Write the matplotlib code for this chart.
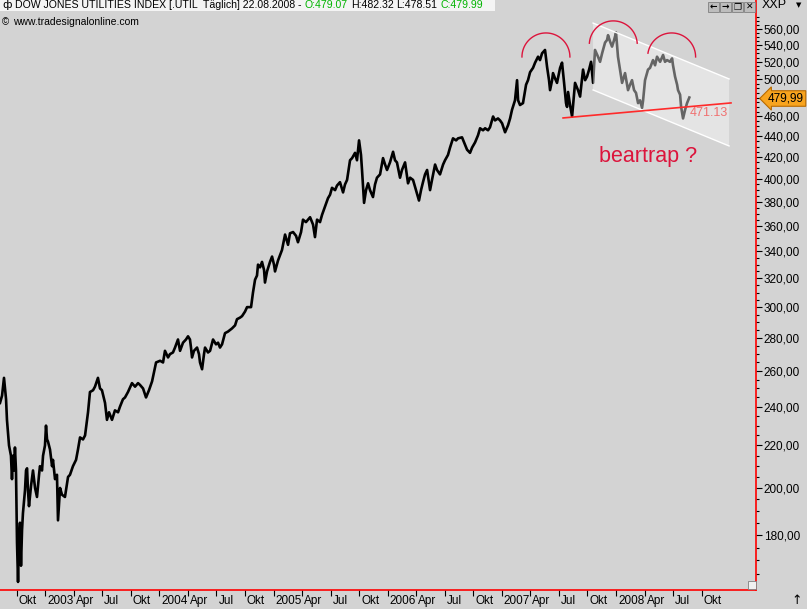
import numpy as np
import matplotlib.pyplot as plt
from matplotlib.patches import Rectangle
from matplotlib.ticker import FixedLocator, FuncFormatter, NullFormatter
from matplotlib.transforms import ScaledTranslation

# daily closes (decimal year, index value)
years = [
    2002.604, 2002.622, 2002.639, 2002.657, 2002.665, 2002.683, 2002.700, 2002.709, 2002.718, 2002.727,
    2002.735, 2002.744, 2002.753, 2002.762, 2002.770, 2002.779, 2002.788, 2002.797, 2002.805, 2002.823,
    2002.832, 2002.841, 2002.849, 2002.858, 2002.876, 2002.893, 2002.911, 2002.928, 2002.946, 2002.954,
    2002.972, 2002.981, 2002.998, 2003.007, 2003.016, 2003.024, 2003.042, 2003.060, 2003.068, 2003.086,
    2003.103, 2003.112, 2003.130, 2003.147, 2003.173, 2003.200, 2003.217, 2003.243, 2003.270, 2003.287,
    2003.305, 2003.331, 2003.349, 2003.375, 2003.392, 2003.419, 2003.436, 2003.462, 2003.480, 2003.497,
    2003.524, 2003.541, 2003.559, 2003.585, 2003.611, 2003.638, 2003.655, 2003.681, 2003.699, 2003.725,
    2003.760, 2003.787, 2003.813, 2003.830, 2003.857, 2003.883, 2003.909, 2003.936, 2003.971, 2004.006,
    2004.032, 2004.049, 2004.076, 2004.093, 2004.119, 2004.137, 2004.163, 2004.181, 2004.207, 2004.233,
    2004.251, 2004.268, 2004.277, 2004.286, 2004.303, 2004.330, 2004.347, 2004.356, 2004.374, 2004.391,
    2004.400, 2004.426, 2004.444, 2004.470, 2004.496, 2004.514, 2004.531, 2004.549, 2004.575, 2004.601,
    2004.636, 2004.663, 2004.680, 2004.706, 2004.724, 2004.750, 2004.768, 2004.803, 2004.820, 2004.838,
    2004.855, 2004.864, 2004.882, 2004.899, 2004.917, 2004.925, 2004.943, 2004.969, 2004.987, 2005.004,
    2005.013, 2005.039, 2005.057, 2005.074, 2005.101, 2005.127, 2005.144, 2005.171, 2005.197, 2005.214,
    2005.241, 2005.258, 2005.284, 2005.320, 2005.346, 2005.363, 2005.381, 2005.407, 2005.425, 2005.451,
    2005.477, 2005.495, 2005.512, 2005.539, 2005.556, 2005.582, 2005.609, 2005.626, 2005.644, 2005.670,
    2005.688, 2005.714, 2005.731, 2005.749, 2005.766, 2005.775, 2005.793, 2005.810, 2005.828, 2005.845,
    2005.871, 2005.889, 2005.906, 2005.933, 2005.959, 2005.977, 2005.994, 2006.020, 2006.047, 2006.064,
    2006.081, 2006.108, 2006.125, 2006.152, 2006.178, 2006.196, 2006.222, 2006.248, 2006.274, 2006.292,
    2006.309, 2006.327, 2006.345, 2006.371, 2006.388, 2006.415, 2006.432, 2006.458, 2006.485, 2006.502,
    2006.528, 2006.546, 2006.572, 2006.599, 2006.616, 2006.651, 2006.677, 2006.695, 2006.721, 2006.739,
    2006.765, 2006.791, 2006.809, 2006.835, 2006.853, 2006.879, 2006.896, 2006.923, 2006.940, 2006.966,
    2006.984, 2007.002, 2007.028, 2007.054, 2007.072, 2007.089, 2007.115, 2007.124, 2007.133, 2007.142,
    2007.159, 2007.185, 2007.212, 2007.229, 2007.247, 2007.273, 2007.291, 2007.317, 2007.334, 2007.352,
    2007.378, 2007.396, 2007.413, 2007.422, 2007.440, 2007.448, 2007.466, 2007.483, 2007.510, 2007.527,
    2007.545, 2007.562, 2007.571, 2007.580, 2007.597, 2007.615, 2007.632, 2007.641, 2007.667, 2007.685,
    2007.711, 2007.729, 2007.746, 2007.764, 2007.781, 2007.799, 2007.816, 2007.842, 2007.860, 2007.878,
    2007.904, 2007.921, 2007.930, 2007.948, 2007.965, 2007.983, 2008.000, 2008.017, 2008.035, 2008.053,
    2008.079, 2008.105, 2008.123, 2008.140, 2008.158, 2008.175, 2008.193, 2008.210, 2008.228, 2008.237,
    2008.254, 2008.280, 2008.298, 2008.324, 2008.342, 2008.359, 2008.386, 2008.412, 2008.429, 2008.447,
    2008.473, 2008.491, 2008.499, 2008.517, 2008.535, 2008.543, 2008.561, 2008.570, 2008.587, 2008.605,
    2008.622, 2008.642,
]
close = [
    242, 246, 256, 244, 233, 220, 215, 204, 215, 208,
    219, 208, 177, 162, 178, 185, 168, 182, 189, 199,
    208, 209, 199, 192, 201, 208, 200, 196, 206, 210,
    208, 215, 220, 230, 223, 222, 218, 210, 213, 204,
    206, 186, 200, 197, 196, 205, 206, 210, 213, 218,
    224, 223, 225, 237, 248, 249, 251, 256, 250, 249,
    242, 233, 237, 233, 238, 237, 240, 244, 245, 248,
    253, 251, 253, 252, 250, 245, 249, 254, 265, 266,
    265, 272, 268, 270, 271, 274, 279, 272, 277, 279,
    281, 279, 274, 268, 272, 274, 270, 265, 261, 270,
    274, 271, 272, 279, 276, 277, 274, 276, 283, 284,
    286, 288, 292, 293, 294, 297, 300, 300, 310, 319,
    322, 330, 328, 332, 326, 317, 325, 332, 336, 330,
    325, 333, 337, 341, 353, 345, 354, 355, 352, 347,
    355, 365, 363, 367, 361, 351, 365, 363, 369, 376,
    383, 386, 392, 390, 394, 397, 388, 395, 399, 417,
    419, 424, 417, 436, 422, 408, 379, 390, 396, 390,
    384, 395, 401, 404, 419, 413, 408, 415, 425, 417,
    415, 401, 408, 415, 396, 401, 399, 390, 381, 390,
    397, 404, 408, 390, 399, 413, 408, 404, 413, 417,
    422, 429, 438, 436, 438, 439, 432, 427, 424, 429,
    434, 441, 448, 446, 448, 446, 449, 460, 456, 458,
    456, 453, 444, 451, 458, 467, 477, 488, 499, 477,
    472, 474, 494, 499, 508, 513, 519, 526, 522, 530,
    534, 514, 499, 488, 499, 507, 501, 496, 513, 519,
    496, 474, 470, 486, 472, 460, 483, 496, 488, 481,
    511, 499, 503, 511, 520, 496, 534, 526, 520, 530,
    543, 546, 552, 544, 538, 546, 555, 526, 511, 496,
    507, 488, 494, 499, 488, 485, 474, 477, 469, 477,
    499, 511, 513, 522, 516, 526, 520, 528, 520, 522,
    520, 524, 516, 503, 494, 488, 483, 470, 458, 467,
    474, 480,
]

quarter_pos = [2002.75 + 0.25 * i for i in range(25)]
quarter_labels = ["Okt", "2003", "Apr", "Jul", "Okt", "2004", "Apr", "Jul", "Okt",
                  "2005", "Apr", "Jul", "Okt", "2006", "Apr", "Jul", "Okt",
                  "2007", "Apr", "Jul", "Okt", "2008", "Apr", "Jul", "Okt"]
price_ticks = list(range(180, 561, 20))

header_parts = ["DOW JONES UTILITIES INDEX [.UTIL  Täglich] 22.08.2008 -",
                "O:479.07", "H:482.32", "L:478.51", "C:479.99"]
header_colors = ["black", "#00b400", "black", "black", "#00b400"]

# drawn annotations (decimal year, value)
channel_x = [2007.799, 2008.990, 2008.990, 2007.799]
channel_y = [567.2, 500.4, 430.6, 488.2]
support_x = [2007.536, 2009.007]
support_y = [458.5, 474.2]
arc_cx = [2007.386, 2007.976, 2008.487]
arc_cy = [525.7, 540.1, 525.7]
arc_span = [(0, 180), (4, 176), (0, 171)]

W, H = 807, 609
BG = "#d3d3d3"
plt.rcParams["font.family"] = ["Liberation Sans", "DejaVu Sans"]


def fx(x):
    return x / W


def fy(y):
    return 1 - y / H


fig = plt.figure(figsize=(W / 100, H / 100), dpi=100, facecolor=BG)
ax = fig.add_axes([0, fy(590), fx(756), 590 / H])
ax.set_facecolor(BG)

ax.plot(years, close, color="black", lw=1.9, zorder=2)

# channel
ax.fill(channel_x, channel_y, color="white", alpha=0.4, lw=0, zorder=3)
ax.plot(channel_x[:2], channel_y[:2], color="white", lw=1, zorder=4)
ax.plot(channel_x[3:1:-1], channel_y[3:1:-1], color="white", lw=1, zorder=4)

ax.plot(support_x, support_y, color="#ff2a2a", lw=1.2, zorder=5)
ax.text(2008.648, 463.7, "471.13", color="#f07070", fontsize=9, va="center", zorder=6)

for cx, cy, (t1, t2) in zip(arc_cx, arc_cy, arc_span):
    t = np.radians(np.linspace(t1, t2, 60))
    ax.plot(cx + 0.21 * np.cos(t), cy * np.exp(0.0538 * np.sin(t)),
            color="#dc143c", lw=1, zorder=5)

ax.text(2007.854, 421, "beartrap ?", color="#dc143c", fontsize=15.5, va="center")

ax.set_yscale("log")
ax.set_xlim(2002.604, 2009.226)
ax.set_ylim(159.1, 597.3)

for s in ["top", "left"]:
    ax.spines[s].set_visible(False)
ax.spines["right"].set_color("red")
ax.spines["bottom"].set_color("red")
ax.spines["right"].set_linewidth(1.2)
ax.spines["bottom"].set_linewidth(1.2)

ax.yaxis.tick_right()
ax.yaxis.set_major_locator(FixedLocator(price_ticks))
ax.yaxis.set_minor_locator(FixedLocator([v for v in range(160, 580, 5) if v % 20]))
ax.yaxis.set_major_formatter(FuncFormatter(
    lambda v, p: "" if round(v) == 480 else f"{v:.2f}".replace(".", ",")))
ax.yaxis.set_minor_formatter(NullFormatter())
ax.tick_params(axis="y", which="major", length=4, width=0.8, pad=1.5, labelsize=8.5)
ax.tick_params(axis="y", which="minor", length=2, width=0.8)

ax.set_xticks(quarter_pos)
ax.set_xticklabels(quarter_labels)
ax.tick_params(axis="x", length=4, width=0.8, pad=0, labelsize=8.5)
for lab in ax.get_xticklabels():
    lab.set_horizontalalignment("left")
    lab.set_transform(lab.get_transform() + ScaledTranslation(0.02, 0.01, fig.dpi_scale_trans))

# header strip
fig.add_artist(Rectangle((0, fy(11)), fx(495), 11 / H, transform=fig.transFigure,
                         facecolor="#f4f4f4", edgecolor="none"))
hy = fy(5.5)
fig.text(fx(2), hy, "ф", fontsize=8, va="center", family="DejaVu Sans")
renderer = fig.canvas.get_renderer()
xpos = 15
for part, col in zip(header_parts, header_colors):
    t = fig.text(fx(xpos), hy, part, fontsize=7.6, va="center", color=col)
    xpos = t.get_window_extent(renderer).x1 + 3
fig.text(fx(2), fy(22), "©", fontsize=7, va="center")
fig.text(fx(13), fy(22), "www.tradesignalonline.com", fontsize=7.5, va="center")

# window buttons
for i, sym in enumerate(["←", "→", "❐", "✕"]):
    x0 = 708 + i * 12
    fig.add_artist(Rectangle((fx(x0), fy(12)), fx(11), 10 / H, transform=fig.transFigure,
                             facecolor="#bdbdbd", edgecolor="#808080", lw=0.6))
    fig.text(fx(x0 + 5.5), fy(7), sym, fontsize=6.5, ha="center", va="center",
             fontweight="bold", family="DejaVu Sans")
fig.text(fx(762), hy, "XXP", fontsize=9, va="center")
fig.text(fx(799), hy, "▼", fontsize=5, va="center", ha="center", family="DejaVu Sans")

# last price tag
fig.text(fx(768), fy(98.5), "479,99", fontsize=8.5, va="center",
         bbox=dict(boxstyle="larrow,pad=0.15", fc="#f8a41e", ec="#b86a00", lw=0.8))

fig.add_artist(Rectangle((fx(748), fy(589)), fx(8), 8 / H, transform=fig.transFigure,
                         facecolor="#f0f0f0", edgecolor="#808080", lw=0.6))
fig.text(fx(791), fy(601), "↑", fontsize=9, va="center", family="DejaVu Sans")

fig.savefig("out.png", dpi=100, facecolor=BG)
